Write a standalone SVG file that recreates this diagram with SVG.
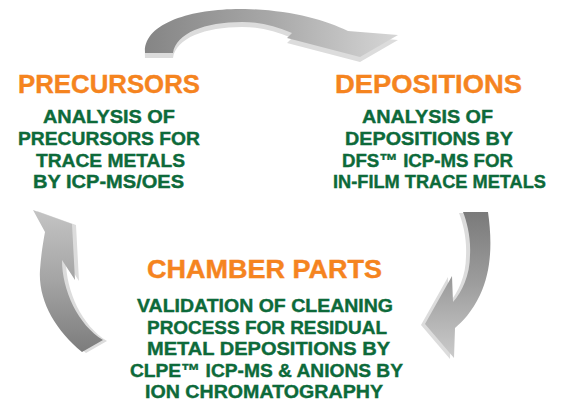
<svg xmlns="http://www.w3.org/2000/svg" width="561" height="406" viewBox="0 0 561 406">
<style>
.title{font-family:"Liberation Sans",Arial,sans-serif;font-weight:700;font-size:25px;fill:#F5841F;stroke:#F5841F;stroke-width:0.4}
.body{font-family:"Liberation Sans",Arial,sans-serif;font-weight:700;font-size:19px;fill:#0D6A3A;stroke:#0D6A3A;stroke-width:0.4}
.edge{fill:#dcdcdc}
</style>
<defs>
<linearGradient id="gTop" gradientUnits="userSpaceOnUse" x1="145" y1="0" x2="398" y2="0">
<stop offset="0" stop-color="#858585"/><stop offset="0.5" stop-color="#a8a8a8"/><stop offset="1" stop-color="#d6d6d6"/>
</linearGradient>
<linearGradient id="gRight" gradientUnits="userSpaceOnUse" x1="0" y1="212" x2="0" y2="358">
<stop offset="0" stop-color="#7a7a7a"/><stop offset="0.5" stop-color="#9e9e9e"/><stop offset="1" stop-color="#cbcbcb"/>
</linearGradient>
<linearGradient id="gLeft" gradientUnits="userSpaceOnUse" x1="0" y1="352" x2="0" y2="210">
<stop offset="0" stop-color="#7c7c7c"/><stop offset="0.5" stop-color="#a4a4a4"/><stop offset="1" stop-color="#c4c4c4"/>
</linearGradient>
</defs>
<rect width="561" height="406" fill="#ffffff"/>
<g id="connectors">
<g id="arrow-top">
<path class="edge" d="M145,58 C143,27 195,13 245,14 C290,15 325,25 348,36 L398,40 L360,62 L287,43 L292,38 C275,31 260,27 242,27 C205,27 176,38 173,58 Z"/>
<path fill="url(#gTop)" d="M145,53 C143,22 195,8 245,9 C290,10 325,20 348,31 L398,35 L360,57 L287,38 L292,33 C275,26 260,22 242,22 C205,22 176,33 173,53 Z"/>
</g>
<g id="arrow-right">
<path class="edge" d="M459,213 L484,213 C488,241 488,271 476,296 C468,313 458,323 451,329 L450,359 L421,325 L448,277 L449,303 C458,293 466,276 466,256 C467,239 463,223 459,213 Z"/>
<path fill="url(#gRight)" d="M463,212 L488,212 C492,240 492,270 480,295 C472,312 462,322 455,328 L454,358 L425,324 L452,276 L453,302 C462,292 470,275 470,255 C471,238 467,222 463,212 Z"/>
</g>
<g id="arrow-left">
<path class="edge" d="M86,353 C59,331 42,301 44,271 C45,256 47,244 49,233 L37,211 L76,225 L79,281 L66,261 C66,291 82,326 107,341 Z"/>
<path fill="url(#gLeft)" d="M82,352 C55,330 38,300 40,270 C41,255 43,243 45,232 L33,210 L72,224 L75,280 L62,260 C62,290 78,325 103,340 Z"/>
</g>
</g>
<g id="precursors">
<text class="title" x="18" y="93" textLength="182" lengthAdjust="spacingAndGlyphs">PRECURSORS</text>
<text class="body" x="43" y="123" textLength="132" lengthAdjust="spacingAndGlyphs">ANALYSIS OF</text>
<text class="body" x="18" y="145" textLength="182" lengthAdjust="spacingAndGlyphs">PRECURSORS FOR</text>
<text class="body" x="36" y="166.5" textLength="149" lengthAdjust="spacingAndGlyphs">TRACE METALS</text>
<text class="body" x="33" y="188" textLength="151" lengthAdjust="spacingAndGlyphs">BY ICP-MS/OES</text>
</g>
<g id="depositions">
<text class="title" x="335" y="93" textLength="187" lengthAdjust="spacingAndGlyphs">DEPOSITIONS</text>
<text class="body" x="362" y="123" textLength="131" lengthAdjust="spacingAndGlyphs">ANALYSIS OF</text>
<text class="body" x="345" y="145" textLength="168" lengthAdjust="spacingAndGlyphs">DEPOSITIONS BY</text>
<text class="body" x="342" y="166.5" textLength="171" lengthAdjust="spacingAndGlyphs">DFS™ ICP-MS FOR</text>
<text class="body" x="333" y="188" textLength="213" lengthAdjust="spacingAndGlyphs">IN-FILM TRACE METALS</text>
</g>
<g id="chamber-parts">
<text class="title" x="147" y="278" textLength="235" lengthAdjust="spacingAndGlyphs">CHAMBER PARTS</text>
<text class="body" x="137" y="312" textLength="256" lengthAdjust="spacingAndGlyphs">VALIDATION OF CLEANING</text>
<text class="body" x="147" y="333.5" textLength="240" lengthAdjust="spacingAndGlyphs">PROCESS FOR RESIDUAL</text>
<text class="body" x="147" y="355" textLength="243" lengthAdjust="spacingAndGlyphs">METAL DEPOSITIONS BY</text>
<text class="body" x="130" y="376.5" textLength="273" lengthAdjust="spacingAndGlyphs">CLPE™ ICP-MS &amp; ANIONS BY</text>
<text class="body" x="145" y="398" textLength="238" lengthAdjust="spacingAndGlyphs">ION CHROMATOGRAPHY</text>
</g>
</svg>
